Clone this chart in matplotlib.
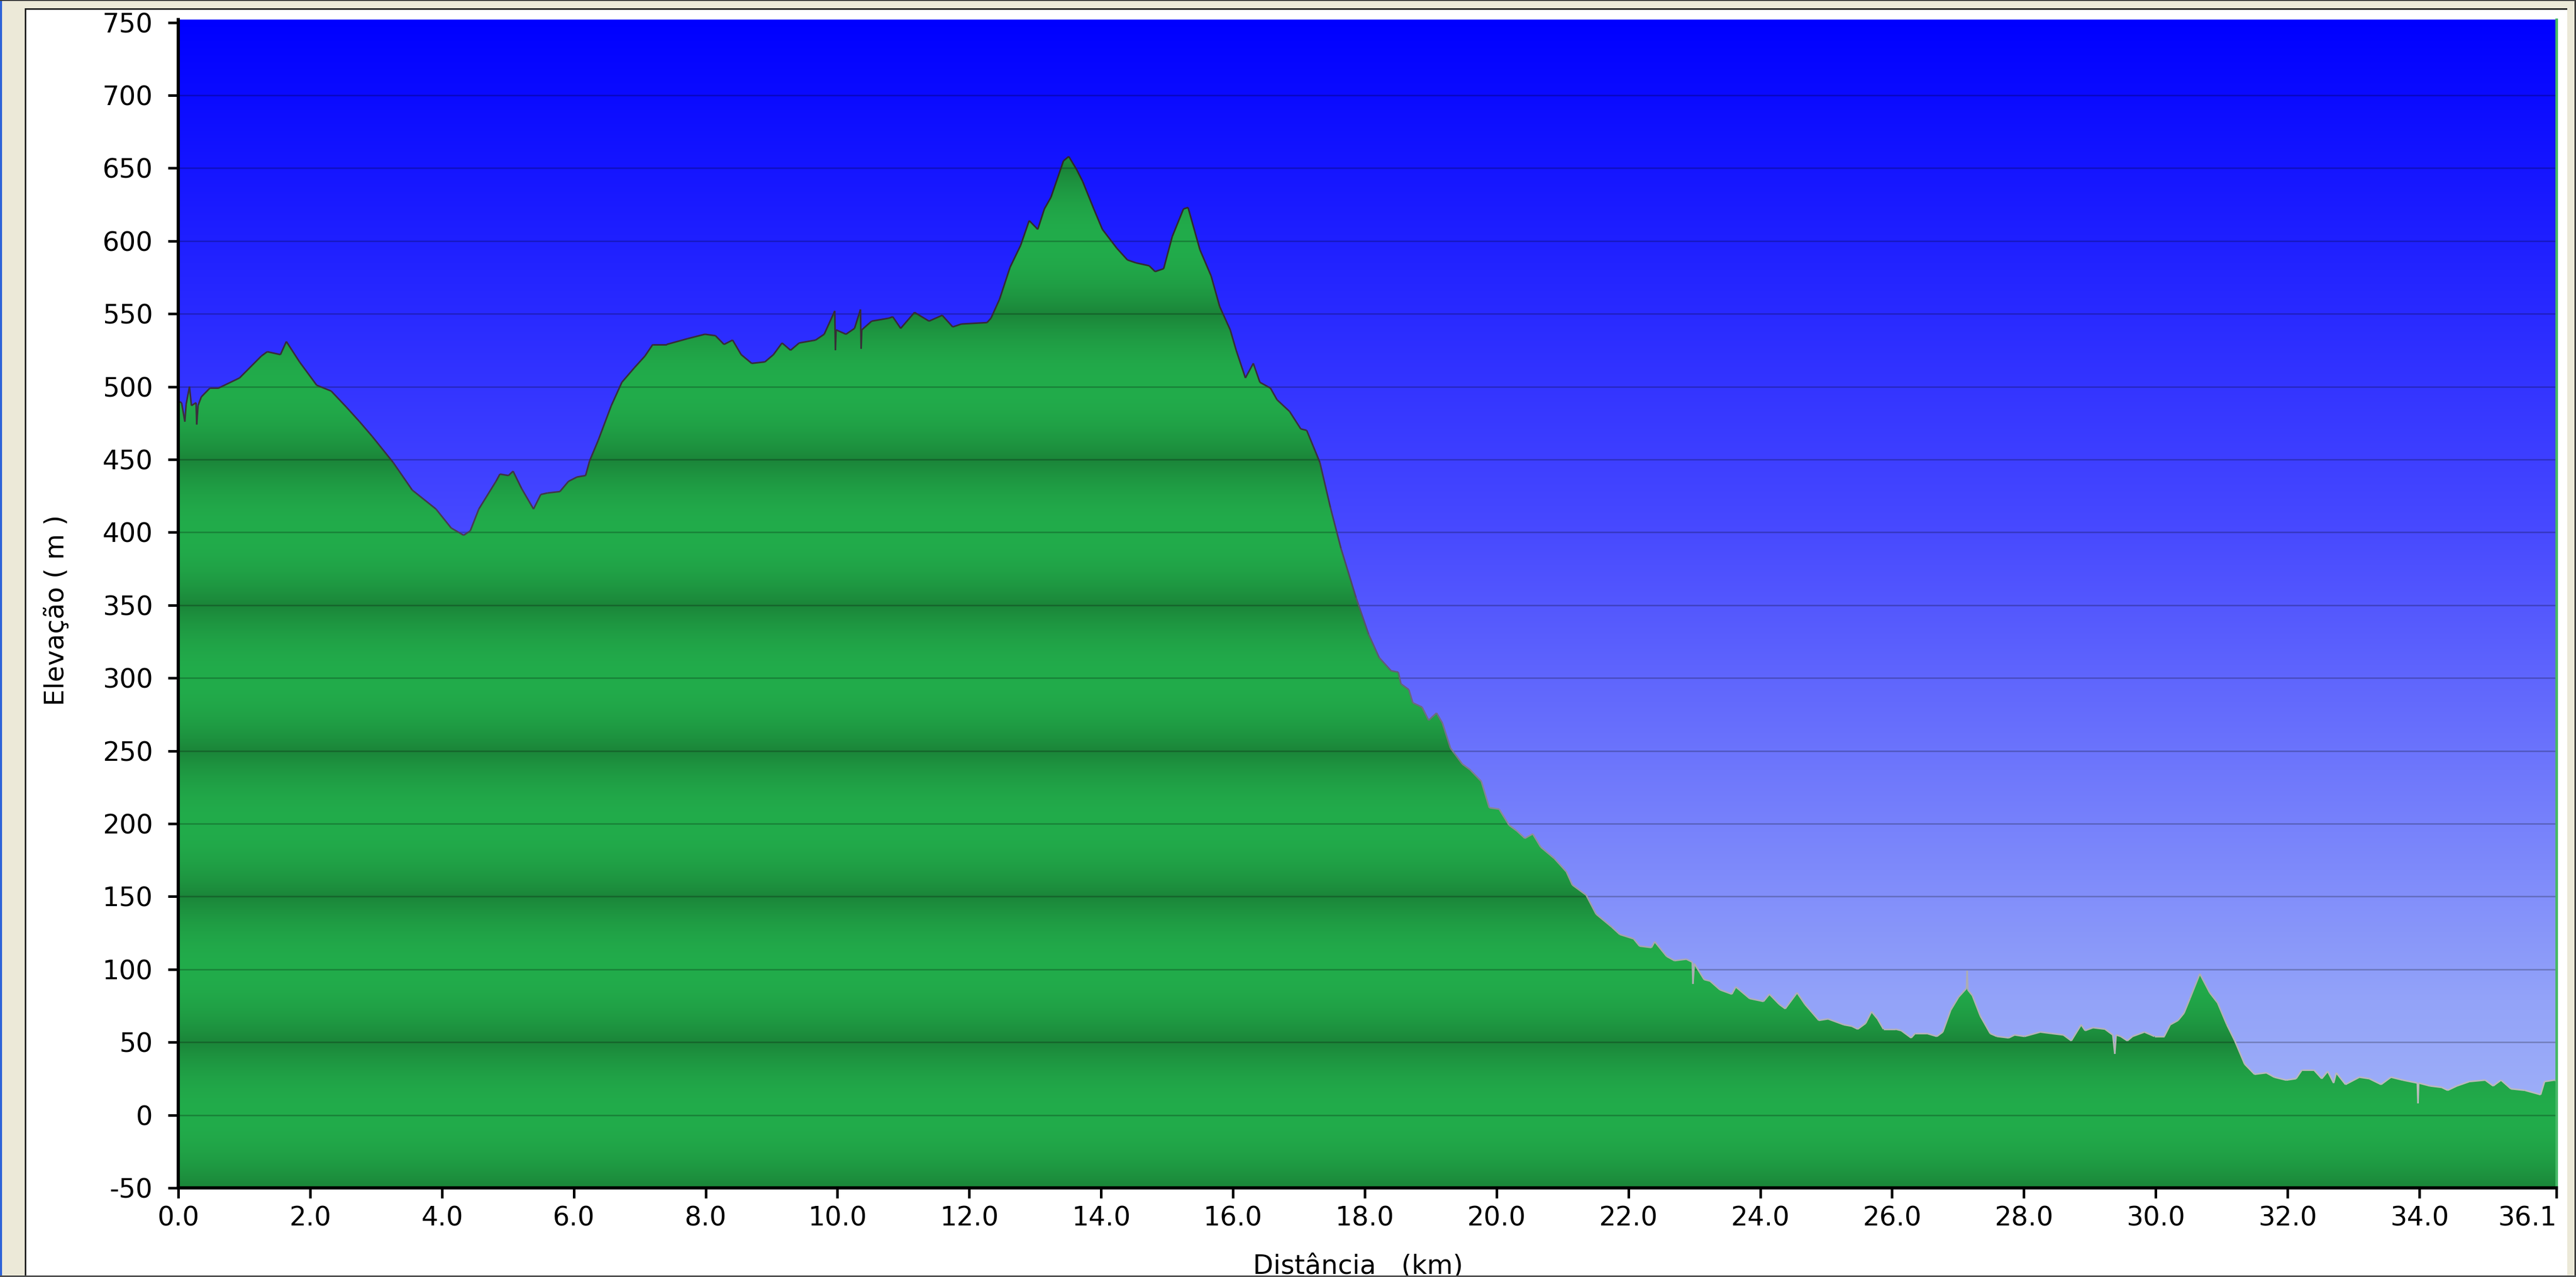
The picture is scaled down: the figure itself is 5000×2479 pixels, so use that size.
import numpy as np
import matplotlib
matplotlib.use('Agg')
import matplotlib.pyplot as plt
from matplotlib.collections import LineCollection
from matplotlib.patches import Polygon, Rectangle

plt.rcParams['font.family'] = ['DejaVu Sans']
plt.rcParams['axes.unicode_minus'] = False

# elevation profile (km, m), spikes kept as in the GPS track
dist_km = [0.00, 0.05, 0.10, 0.12, 0.17, 0.20, 0.27, 0.28, 0.30, 0.35, 0.48, 0.61,
           0.93, 1.26, 1.35, 1.55, 1.64, 1.84, 2.10, 2.32, 2.55, 2.75, 2.94, 3.26,
           3.55, 3.91, 4.14, 4.33, 4.43, 4.56, 4.82, 4.88, 5.01, 5.08, 5.21, 5.39,
           5.50, 5.60, 5.79, 5.92, 6.05, 6.18, 6.24, 6.37, 6.57, 6.73, 6.92, 7.08,
           7.20, 7.41, 7.73, 7.99, 8.15, 8.28, 8.41, 8.54, 8.70, 8.90, 9.03, 9.16,
           9.29, 9.42, 9.67, 9.80, 9.96, 9.97, 9.98, 10.13, 10.26, 10.35, 10.36, 10.37,
           10.52, 10.78, 10.84, 10.96, 11.17, 11.39, 11.59, 11.75, 11.88, 12.27, 12.33, 12.46,
           12.62, 12.78, 12.91, 13.04, 13.14, 13.24, 13.43, 13.51, 13.63, 13.72, 13.89, 14.02,
           14.24, 14.40, 14.53, 14.73, 14.82, 14.95, 15.08, 15.25, 15.32, 15.50, 15.67, 15.80,
           15.96, 16.05, 16.19, 16.31, 16.41, 16.57, 16.67, 16.86, 17.03, 17.12, 17.32, 17.48,
           17.64, 17.87, 18.06, 18.22, 18.40, 18.51, 18.55, 18.67, 18.73, 18.87, 18.97, 19.09,
           19.18, 19.30, 19.48, 19.60, 19.77, 19.89, 20.04, 20.19, 20.31, 20.43, 20.55, 20.67,
           20.88, 21.06, 21.15, 21.36, 21.51, 21.75, 21.87, 22.08, 22.17, 22.35, 22.40, 22.58,
           22.70, 22.88, 22.97, 22.98, 23.00, 23.15, 23.24, 23.39, 23.57, 23.63, 23.84, 24.05,
           24.14, 24.29, 24.38, 24.56, 24.68, 24.89, 25.03, 25.27, 25.39, 25.48, 25.60, 25.69,
           25.78, 25.87, 26.05, 26.14, 26.29, 26.35, 26.53, 26.68, 26.77, 26.89, 27.01, 27.13,
           27.14, 27.15, 27.22, 27.34, 27.49, 27.59, 27.77, 27.86, 28.01, 28.25, 28.42, 28.60,
           28.72, 28.87, 28.93, 29.05, 29.23, 29.35, 29.38, 29.40, 29.47, 29.57, 29.65, 29.83,
           29.98, 30.13, 30.22, 30.34, 30.43, 30.52, 30.67, 30.82, 30.94, 31.08, 31.20, 31.35,
           31.50, 31.68, 31.80, 31.98, 32.13, 32.22, 32.40, 32.52, 32.61, 32.70, 32.74, 32.88,
           33.09, 33.24, 33.42, 33.57, 33.75, 33.97, 33.98, 33.99, 34.16, 34.34, 34.43, 34.57,
           34.76, 35.00, 35.12, 35.24, 35.39, 35.60, 35.84, 35.90, 36.05, 36.08]
elev_m = [490, 489, 476, 488, 500, 487, 489, 474, 487, 493, 499, 499,
          506, 521, 524, 522, 531, 517, 501, 497, 486, 476, 466, 448,
          429, 416, 403, 398, 401, 416, 435, 440, 439, 442, 430, 416,
          426, 427, 428, 435, 438, 439, 449, 463, 487, 503, 513, 521,
          529, 529, 533, 536, 535, 529, 532, 522, 516, 517, 522, 530,
          525, 530, 532, 536, 552, 525, 539, 536, 540, 553, 526, 539,
          545, 547, 548, 540, 551, 545, 549, 541, 543, 544, 547, 560,
          582, 597, 614, 608, 622, 630, 655, 658, 649, 641, 622, 608,
          595, 587, 585, 583, 579, 581, 603, 622, 623, 594, 576, 555,
          539, 525, 506, 516, 503, 499, 491, 483, 471, 470, 448, 417,
          389, 355, 330, 314, 305, 304, 296, 292, 283, 280, 271, 276,
          269, 252, 241, 237, 229, 211, 210, 199, 195, 190, 193, 184,
          176, 167, 158, 151, 138, 129, 124, 121, 116, 115, 119, 109,
          106, 107, 105, 90, 104, 93, 92, 86, 83, 88, 80, 78,
          83, 76, 73, 84, 76, 65, 66, 62, 61, 59, 63, 71,
          66, 59, 59, 58, 53, 56, 56, 54, 57, 72, 81, 87,
          99, 86, 82, 68, 56, 54, 53, 55, 54, 57, 56, 55,
          51, 62, 58, 60, 59, 55, 42, 55, 54, 51, 54, 57,
          54, 54, 62, 65, 70, 80, 97, 84, 77, 62, 51, 35,
          28, 29, 26, 24, 25, 31, 31, 25, 30, 22, 29, 21,
          26, 25, 21, 26, 24, 22, 8, 22, 20, 19, 17, 20,
          23, 24, 20, 24, 18, 17, 14, 23, 24, 24]

y_ticks = [-50, 0, 50, 100, 150, 200, 250, 300, 350, 400, 450, 500, 550, 600, 650, 700, 750]
x_ticks = [0, 2, 4, 6, 8, 10, 12, 14, 16, 18, 20, 22, 24, 26, 28, 30, 32, 34, 36.08]
x_tick_labels = ['0.0', '2.0', '4.0', '6.0', '8.0', '10.0', '12.0', '14.0', '16.0', '18.0',
                 '20.0', '22.0', '24.0', '26.0', '28.0', '30.0', '32.0', '34.0', '36.1']

W, H = 5000, 2479
x_max = 36.08
y_min, y_max = -50, 752

fig = plt.figure(figsize=(W / 100, H / 100), dpi=100)
fig.patch.set_facecolor('#ECE9D8')


def px_rect(x0, y0, x1, y1, color, z):
    # rectangle in image pixels, origin top-left
    r = Rectangle((x0 / W, 1 - y1 / H), (x1 - x0) / W, (y1 - y0) / H,
                  transform=fig.transFigure, facecolor=color, edgecolor='none', zorder=z)
    fig.patches.append(r)


# window frame
px_rect(51, 19, 4983, 2476, 'white', -2)
px_rect(0, 0, 4, H, '#2F63D8', 6)
px_rect(0, 0, W, 2, '#3C3C3C', 6)
px_rect(48, 16, 4983, 19, '#1E1E1E', 6)
px_rect(48, 16, 51, 2476, '#1E1E1E', 6)
px_rect(4997, 0, W, H, '#3C3C3C', 6)
px_rect(0, 2476, W, H, '#505050', 6)

ax = fig.add_axes([346 / W, 173 / H, (4962 - 346) / W, (2306 - 38) / H])
ax.set_xlim(0, x_max)
ax.set_ylim(y_min, y_max)

# blue sky gradient
f = np.linspace(0, 1, 800)
stops_f = [0.0, 0.44, 0.84, 1.0]
r = np.interp(f, stops_f, [0, 72, 147, 165])
g = np.interp(f, stops_f, [0, 74, 163, 183])
b = np.interp(f, stops_f, [255, 255, 249, 247])
sky = np.stack([r, g, b], axis=1)[:, None, :] / 255.0
ax.imshow(sky, extent=[0, x_max, y_min, y_max], aspect='auto', origin='upper',
          interpolation='bilinear', zorder=0)

# banded green ground, clipped to the profile
e = np.linspace(y_min, y_max, 1600)
t = np.abs(np.mod(e, 100) - 50) / 50.0
t = 1 - (1 - t) ** 2
bright = np.array([34, 172, 75]) / 255.0
dark = np.array([27, 133, 57]) / 255.0
ground = (dark[None, :] + (bright - dark)[None, :] * t[:, None])[:, None, :]
im = ax.imshow(ground, extent=[0, x_max, y_min, y_max], aspect='auto', origin='lower',
               interpolation='bilinear', zorder=1)
verts = [(dist_km[0], y_min)] + list(zip(dist_km, elev_m)) + [(dist_km[-1], y_min)]
poly = Polygon(verts, closed=True, facecolor='none', edgecolor='none')
ax.add_patch(poly)
im.set_clip_path(poly)

# grid lines
for v in y_ticks[1:-1]:
    ax.axhline(v, color='black', alpha=0.22, lw=2.2, zorder=2)

# profile outline, shade follows the height
x = np.array(dist_km)
y = np.array(elev_m, dtype=float)
segs = np.stack([np.column_stack([x[:-1], y[:-1]]), np.column_stack([x[1:], y[1:]])], axis=1)
mid = (y[:-1] + y[1:]) / 2
lev = [0, 100, 200, 300, 450, 650]
cr = np.interp(mid, lev, [190, 172, 140, 100, 60, 48])
cg = np.interp(mid, lev, [190, 172, 140, 96, 48, 40])
cb = np.interp(mid, lev, [190, 178, 152, 120, 64, 40])
cols = np.column_stack([cr, cg, cb]) / 255.0
ax.add_collection(LineCollection(segs, colors=cols, linewidths=2.2, zorder=3))

# axes styling
ax.spines['top'].set_visible(False)
ax.spines['left'].set_linewidth(4.5)
ax.spines['bottom'].set_linewidth(4.5)
ax.spines['right'].set_color('#46B866')
ax.spines['right'].set_linewidth(3.6)
for s in ('left', 'bottom', 'right'):
    ax.spines[s].set_zorder(4)

ax.set_yticks(y_ticks)
ax.set_xticks(x_ticks)
ax.set_xticklabels(x_tick_labels)
ax.tick_params(axis='both', direction='out', length=14.5, width=3.6, labelsize=37, color='black')
ax.tick_params(axis='y', pad=21)
ax.tick_params(axis='x', pad=10)
ax.get_xticklabels()[-1].set_horizontalalignment('right')

fig.text(2636 / W, (H - 2473) / H, 'Distância   (km)', fontsize=37, ha='center', va='baseline')
fig.text(110 / W, (H - 1185) / H, 'Elevação ( m )', fontsize=37, ha='center', va='center',
         rotation=90)

fig.savefig('out.png', dpi=100, facecolor=fig.get_facecolor())
